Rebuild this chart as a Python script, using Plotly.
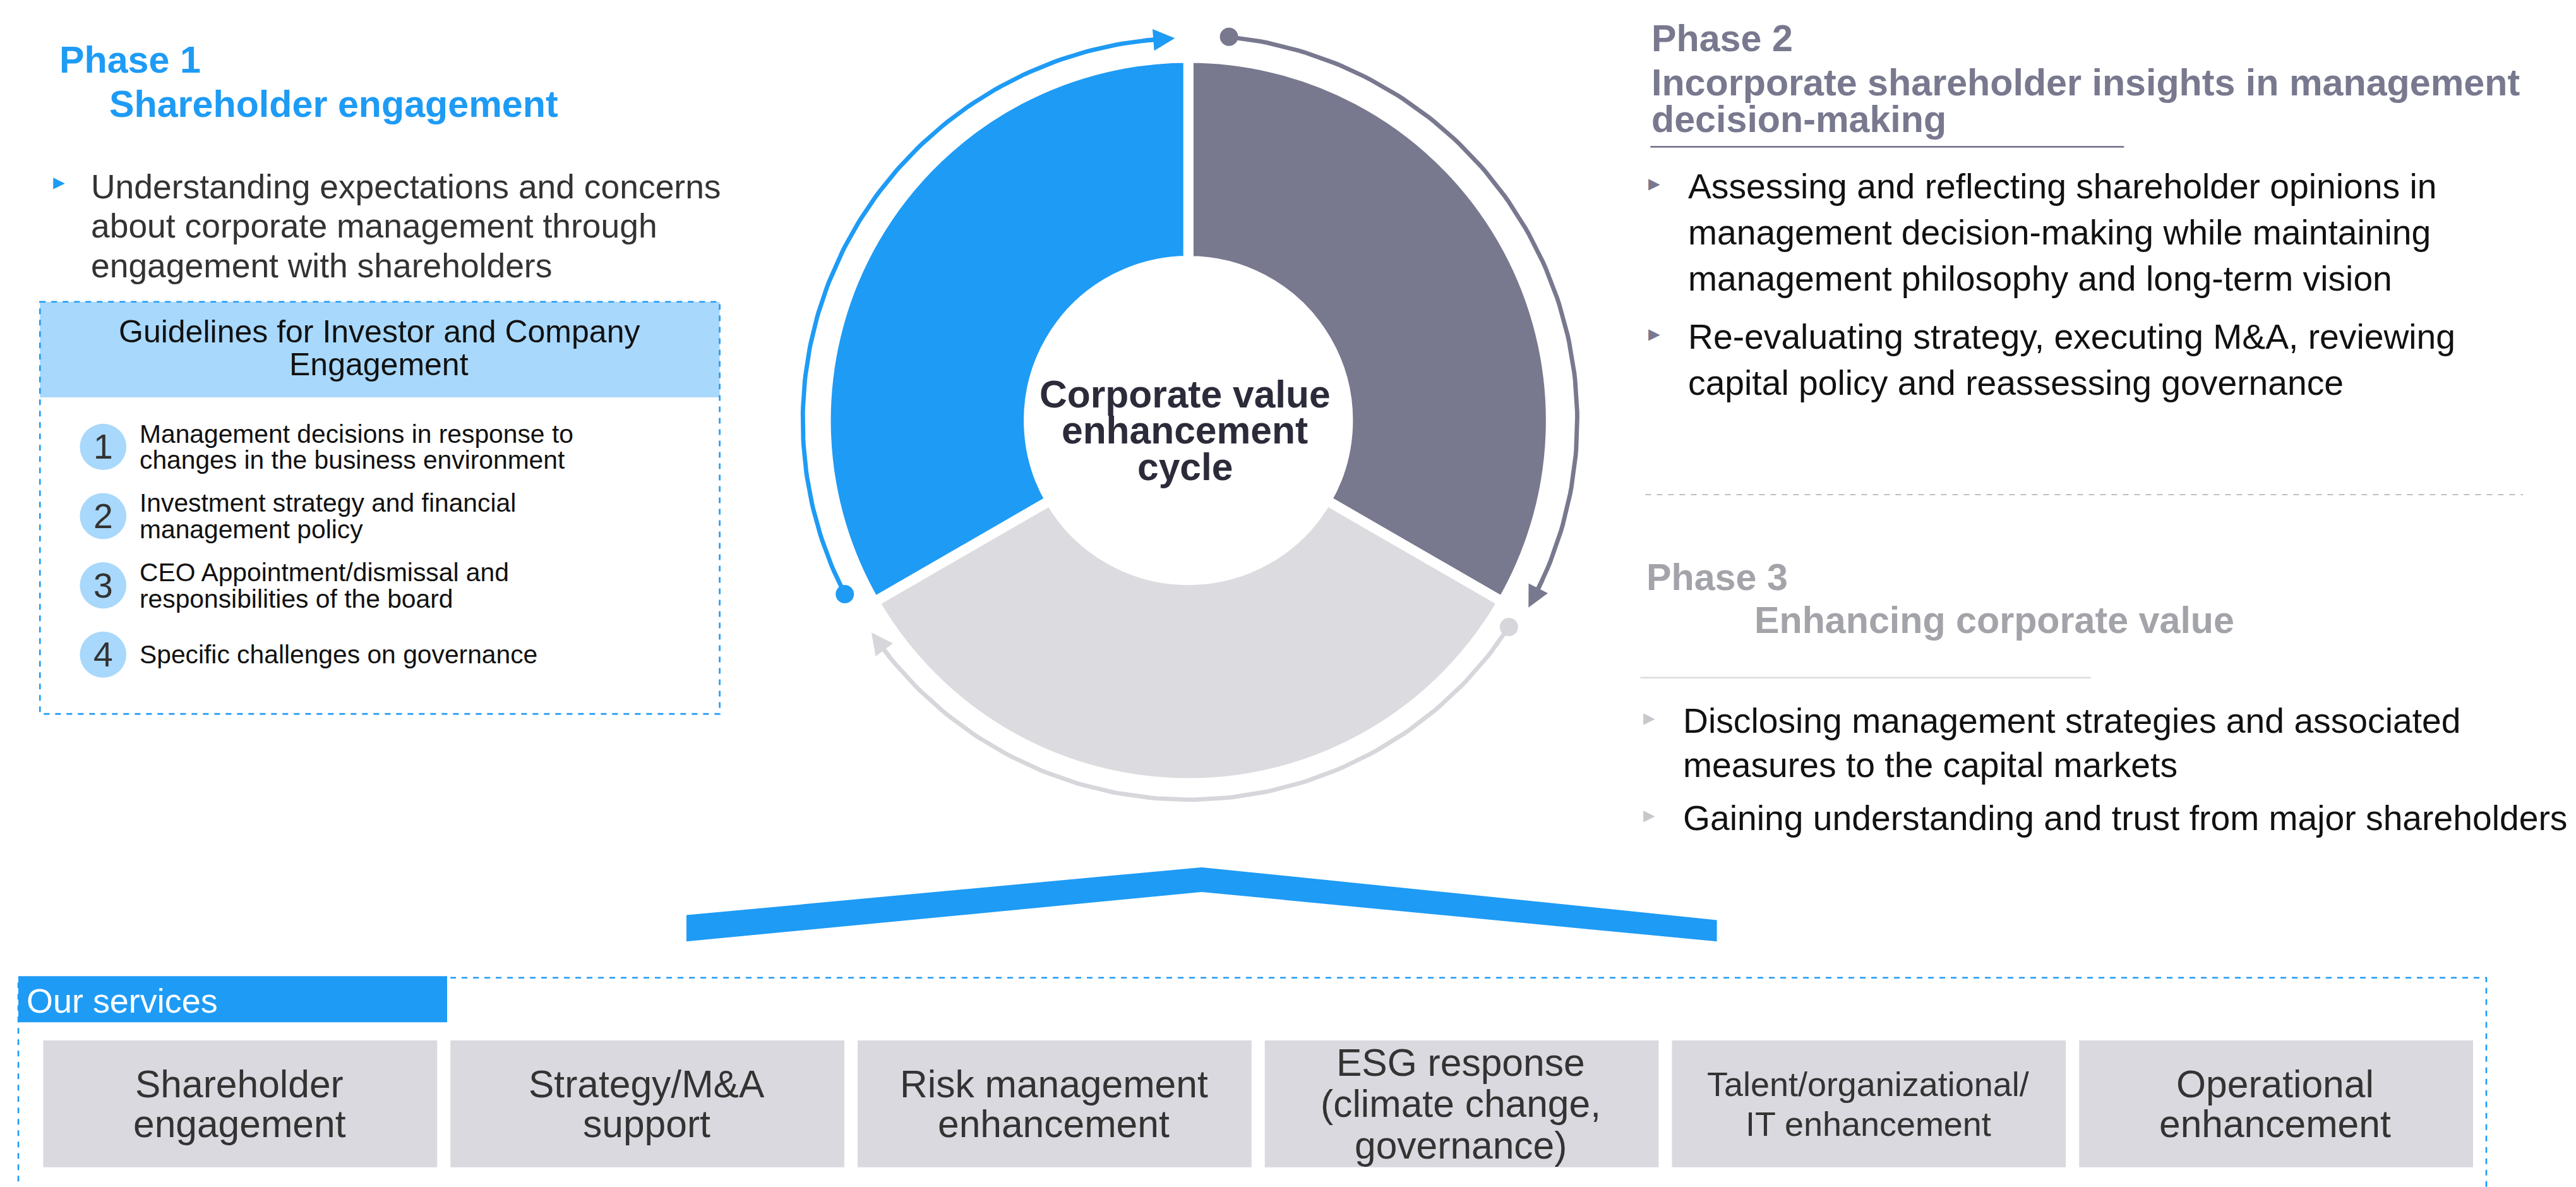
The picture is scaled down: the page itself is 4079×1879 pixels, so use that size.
import numpy as np
import plotly.graph_objects as go

W, H = 4079, 1879
S = W / 1550.0

BLUE = "#1e9bf5"
LBLUE = "#a8d8fb"
PURP = "#78788f"
LGRAY = "#dcdce0"
P3 = "#a3a3aa"
TXT = "#333333"

phase1_title = ["Phase 1", "Shareholder engagement"]
phase1_bullet = ["Understanding expectations and concerns", "about corporate management through", "engagement with shareholders"]
guide_title = ["Guidelines for Investor and Company", "Engagement"]
guide_items = [["Management decisions in response to", "changes in the business environment"],
               ["Investment strategy and financial", "management policy"],
               ["CEO Appointment/dismissal and", "responsibilities of the board"],
               ["Specific challenges on governance"]]
phase2_title = ["Phase 2", "Incorporate shareholder insights in management", "decision-making"]
phase2_bullets = [["Assessing and reflecting shareholder opinions in", "management decision-making while maintaining", "management philosophy and long-term vision"],
                  ["Re-evaluating strategy, executing M&A, reviewing", "capital policy and reassessing governance"]]
phase3_title = ["Phase 3", "Enhancing corporate value"]
phase3_bullets = [["Disclosing management strategies and associated", "measures to the capital markets"],
                  ["Gaining understanding and trust from major shareholders"]]
cycle_labels = ["Phase 2", "Phase 3", "Phase 1"]
cycle_values = [1, 1, 1]
cycle_colors = [PURP, LGRAY, BLUE]
center_text = ["Corporate value", "enhancement", "cycle"]
services = [["Shareholder", "engagement"], ["Strategy/M&A", "support"], ["Risk management", "enhancement"],
            ["ESG response", "(climate change,", "governance)"], ["Talent/organizational/", "IT enhancement"],
            ["Operational", "enhancement"]]

fig = go.Figure()
ann = []
shapes = []

def txt(x, y, t, size, color=TXT, bold=False, xa="left", font="Liberation Sans"):
    if bold:
        t = "<b>" + t + "</b>"
    ann.append(dict(x=x, y=y, text=t, showarrow=False, xanchor=xa, yanchor="middle",
                    font=dict(size=size * S, color=color, family=font), xref="x", yref="y"))

TS = 22.5   # title size
BS1 = 20.3  # phase1 body
BS2 = 21    # right body
# Phase 1
txt(32, 33, phase1_title[0], TS, BLUE, True)
txt(62, 60, phase1_title[1], TS, BLUE, True)
txt(28, 107, "▸", 14, BLUE)
for i, l in enumerate(phase1_bullet):
    txt(51, 110 + 24 * i, l, BS1, TXT)
shapes.append(dict(type="rect", x0=21, x1=430, y0=180, y1=238, fillcolor=LBLUE, line=dict(width=0), layer="below"))
shapes.append(dict(type="rect", x0=21, x1=430, y0=180, y1=430, line=dict(color=BLUE, width=S, dash="dash")))
for i, l in enumerate(guide_title):
    txt(225, 198 + 20 * i, l, 19, "#111", xa="center")
for i, item in enumerate(guide_items):
    cy = 268 + 42 * i
    shapes.append(dict(type="circle", x0=45, x1=73, y0=cy - 14, y1=cy + 14, fillcolor=LBLUE, line=dict(width=0)))
    txt(59, cy, str(i + 1), 21, TXT, xa="center")
    n = len(item)
    for j, l in enumerate(item):
        txt(80, cy + (j - (n - 1) / 2) * 16, l, 15.5, "#111")

# Phase 2
txt(990, 20, phase2_title[0], TS, PURP, True)
txt(990, 47, phase2_title[1], TS, PURP, True)
txt(990, 69, phase2_title[2], TS, PURP, True)
shapes.append(dict(type="line", x0=990, x1=1275, y0=86, y1=86, line=dict(color=PURP, width=S)))
ys = [[110, 138, 166], [201, 229]]
for b, yy in zip(phase2_bullets, ys):
    txt(988, yy[0] - 2, "▸", 14, PURP)
    for l, y in zip(b, yy):
        txt(1012, y, l, BS2, "#111")
shapes.append(dict(type="line", x0=987, x1=1515, y0=297, y1=297, line=dict(color="#aaaaaa", width=1.5, dash="dash")))

# Phase 3
txt(987, 347, phase3_title[0], TS, P3, True)
txt(1052, 373, phase3_title[1], TS, P3, True)
shapes.append(dict(type="line", x0=984, x1=1255, y0=408, y1=408, line=dict(color=LGRAY, width=S)))
ys = [[434, 461], [493]]
for b, yy in zip(phase3_bullets, ys):
    txt(985, yy[0] - 2, "▸", 14, "#c8c8cc")
    for l, y in zip(b, yy):
        txt(1009, y, l, BS2, "#111")

# Cycle donut
cx, cy, R = 712, 252, 220
fig.add_trace(go.Pie(values=cycle_values, labels=cycle_labels, marker=dict(colors=cycle_colors, line=dict(color="white", width=16)),
                     hole=0.44, sort=False, direction="clockwise", rotation=0, textinfo="none", showlegend=False,
                     hoverinfo="skip",
                     domain=dict(x=[(cx - R) / 1550, (cx + R) / 1550], y=[1 - (cy + R) / 720, 1 - (cy - R) / 720])))
for i, l in enumerate(center_text):
    txt(cx - 2, 236 + 22 * i, l, 23, "#2b2b3a", True, xa="center")

def arc(a0, a1, r, color):
    th = np.radians(np.linspace(a0, a1, 120))
    x = cx + r * np.cos(th)
    y = cy - r * np.sin(th)
    fig.add_trace(go.Scatter(x=x[:-3], y=y[:-3], mode="lines", line=dict(color=color, width=2.6 * S), hoverinfo="skip", showlegend=False))
    fig.add_trace(go.Scatter(x=[x[0]], y=[y[0]], mode="markers", marker=dict(color=color, size=11 * S),
                  hoverinfo="skip", showlegend=False))
    ann.append(dict(x=x[-1], y=y[-1], ax=x[-6], ay=y[-6], axref="x", ayref="y", xref="x", yref="y", text="",
                    showarrow=True, arrowhead=2, arrowsize=1.0, arrowwidth=2.6 * S, arrowcolor=color))

arc(207, 92, 232, BLUE)
arc(84, -29, 234, PURP)
arc(-33, -146, 230, "#d6d6db")

# Chevron
shapes.append(dict(type="path", path="M 410 552 L 720 523 L 1030 555 L 1030 568 L 720 538 L 410 568 Z",
                   fillcolor=BLUE, line=dict(width=0)))

# Services
shapes.append(dict(type="rect", x0=8, x1=1493, y0=590, y1=720, line=dict(color=BLUE, width=S, dash="dash")))
shapes.append(dict(type="rect", x0=8, x1=266, y0=589, y1=617, fillcolor=BLUE, line=dict(width=0)))
txt(12, 604, "Our services", 20.5, "white")
for i, sv in enumerate(services):
    x0 = 23 + 245 * i
    shapes.append(dict(type="rect", x0=x0, x1=x0 + 237, y0=628, y1=705, fillcolor="#d9d9df", line=dict(width=0), layer="below"))
    n = len(sv)
    sz = 20.5 if len(sv[0]) > 18 else 23
    gap = 24 if n == 2 else 25
    for j, l in enumerate(sv):
        txt(x0 + 118, 666.5 + (j - (n - 1) / 2) * gap, l, sz, TXT, xa="center")

fig.update_layout(width=W, height=H, margin=dict(l=0, r=0, t=0, b=0), paper_bgcolor="white", plot_bgcolor="white",
                  xaxis=dict(range=[0, 1550], visible=False, fixedrange=True),
                  yaxis=dict(range=[720, 0], visible=False, fixedrange=True),
                  annotations=ann, shapes=shapes, showlegend=False)
fig.write_html("out.html")
